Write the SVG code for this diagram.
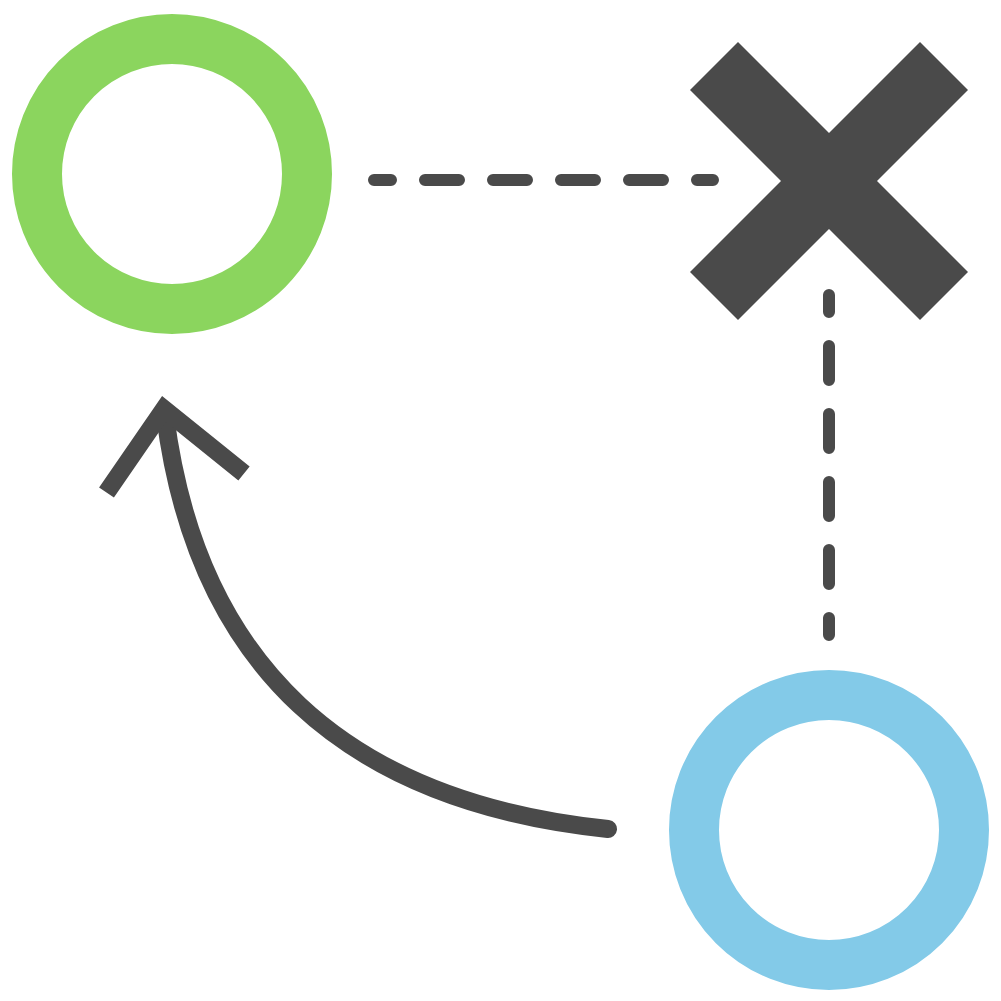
<svg xmlns="http://www.w3.org/2000/svg" width="1001" height="1001" viewBox="0 0 1001 1001">
  <style>
    .ring { fill: none; stroke-width: 50; }
    .dash { fill: none; stroke: #4a4a4a; stroke-width: 12; stroke-linecap: round; stroke-dasharray: 34 34; stroke-dashoffset: 17; }
    .arrow { fill: none; stroke: #4a4a4a; stroke-width: 18; }
  </style>
  <rect width="1001" height="1001" fill="#ffffff"/>
  <g id="connectors">
    <line class="dash" x1="374" y1="180" x2="713" y2="180"/>
    <line class="dash" x1="829" y1="295" x2="829" y2="635"/>
    <path class="arrow" d="M608,829 Q212,788 165,415" stroke-linecap="round"/>
    <polyline class="arrow" points="106.5,492.5 164,409 244,473.5" stroke-linejoin="miter" stroke-miterlimit="10"/>
  </g>
  <g id="node-green">
    <circle class="ring" cx="172" cy="174" r="135" stroke="#8bd55e"/>
  </g>
  <g id="node-x">
    <polygon fill="#4a4a4a" points="690,90 738,42 829,133 920,42 968,90 877,181 968,272 920,320 829,229 738,320 690,272 781,181"/>
  </g>
  <g id="node-blue">
    <circle class="ring" cx="829" cy="830" r="135" stroke="#83cae8"/>
  </g>
</svg>
